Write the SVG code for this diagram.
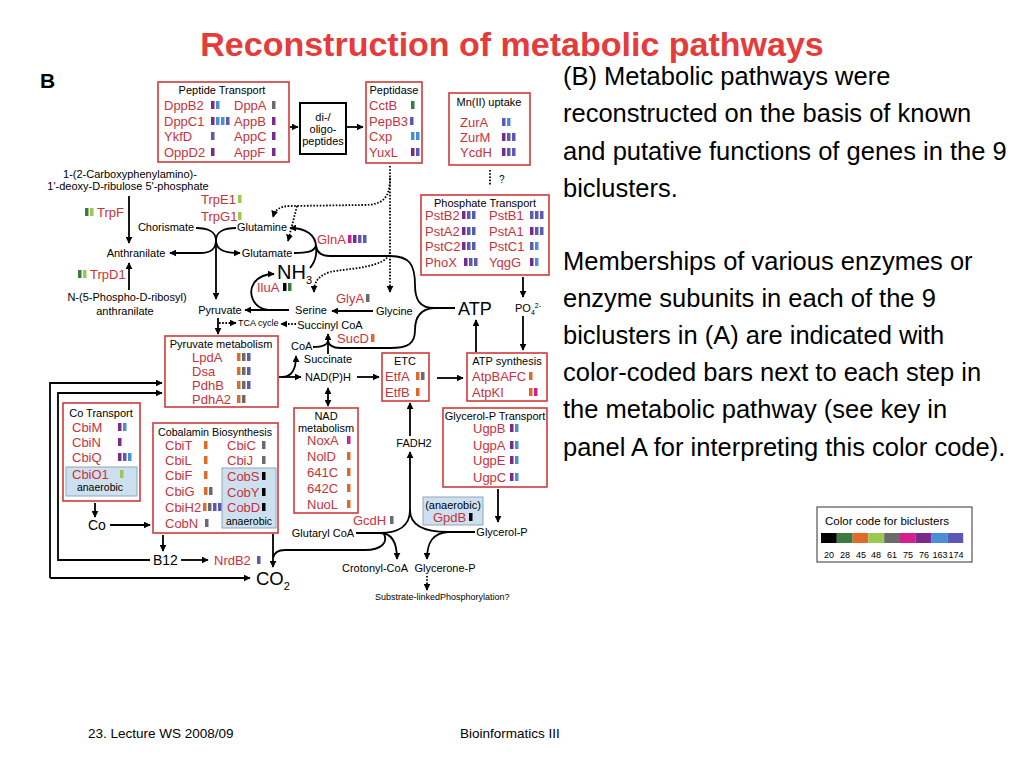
<svg xmlns="http://www.w3.org/2000/svg" width="1024" height="768" viewBox="0 0 1024 768">
<defs>
<style>
text{font-family:"Liberation Sans",Arial,Helvetica,sans-serif}
.t{font-size:11px;fill:#000}
.tm{font-size:11px;fill:#000;text-anchor:middle}
.g{font-size:13px;fill:#c8323a}
.box{fill:#fff;stroke:#d03a3a;stroke-width:1.6}
.an{fill:#cde0f0;stroke:#8fa6b8;stroke-width:1}
.ln{fill:none;stroke:#000;stroke-width:1.8;marker-end:url(#ah)}
.nl{fill:none;stroke:#000;stroke-width:1.8}
.dt{fill:none;stroke:#000;stroke-width:1.8;stroke-dasharray:1.6 1.6;marker-end:url(#ah)}
.dn{fill:none;stroke:#000;stroke-width:1.8;stroke-dasharray:1.6 1.6}
.c20{fill:#000}.c28{fill:#3b7a40}.c45{fill:#e06a2a}.c48{fill:#9ac850}.c61{fill:#6b6b6b}.c75{fill:#d2208c}.c76{fill:#7a2a8c}.c163{fill:#4a8fd6}.c174{fill:#5a5ab4}
.txt{font-size:25.5px;fill:#000}
</style>
<marker id="ah" viewBox="0 0 10 10" refX="9" refY="5" markerWidth="7" markerHeight="7" markerUnits="userSpaceOnUse" orient="auto-start-reverse"><path d="M0,0 L10,5 L0,10 z" fill="#000"/></marker>
</defs>
<rect width="1024" height="768" fill="#fff"/>

<text x="512" y="56" text-anchor="middle" style="font-size:34px;font-weight:bold;fill:#e43b3b">Reconstruction of metabolic pathways</text>
<text x="40" y="88" style="font-size:21px;font-weight:bold;fill:#000">B</text>

<g id="right-text">
<text class="txt" x="563" y="85">(B) Metabolic pathways were</text>
<text class="txt" x="563" y="122">reconstructed on the basis of known</text>
<text class="txt" x="563" y="160">and putative functions of genes in the 9</text>
<text class="txt" x="563" y="197">biclusters.</text>
<text class="txt" x="563" y="270">Memberships of various enzymes or</text>
<text class="txt" x="563" y="307">enzyme subunits in each of the 9</text>
<text class="txt" x="563" y="344">biclusters in (A) are indicated with</text>
<text class="txt" x="563" y="381">color-coded bars next to each step in</text>
<text class="txt" x="563" y="418">the metabolic pathway (see key in</text>
<text class="txt" x="563" y="456">panel A for interpreting this color code).</text>
</g>

<g id="color-key">
<rect x="817" y="507" width="155" height="55" fill="#fff" stroke="#333" stroke-width="1"/>
<text x="825" y="525" style="font-size:11.5px;fill:#000">Color code for biclusters</text>
<rect class="c20" x="821" y="533" width="15.8" height="10"/>
<rect class="c28" x="836.8" y="533" width="15.8" height="10"/>
<rect class="c45" x="852.6" y="533" width="15.8" height="10"/>
<rect class="c48" x="868.4" y="533" width="15.8" height="10"/>
<rect class="c61" x="884.2" y="533" width="15.8" height="10"/>
<rect class="c75" x="900" y="533" width="15.8" height="10"/>
<rect class="c76" x="915.8" y="533" width="15.8" height="10"/>
<rect class="c163" x="931.6" y="533" width="15.8" height="10"/>
<rect class="c174" x="947.4" y="533" width="15.8" height="10"/>
<g style="font-size:9px;fill:#000;text-anchor:middle">
<text x="829" y="558">20</text><text x="845" y="558">28</text><text x="861" y="558">45</text><text x="876" y="558">48</text><text x="892" y="558">61</text><text x="908" y="558">75</text><text x="924" y="558">76</text><text x="940" y="558">163</text><text x="956" y="558">174</text>
</g>
</g>

<g id="connectors">
<!-- peptide chain -->
<path class="ln" d="M290,127 L298,127"/>
<path class="ln" d="M347,127 L363,127"/>
<path class="dn" d="M490,170 L490,185"/>
<path class="ln" d="M523,277 L523,297"/>
<path class="ln" d="M523,316 L523,350"/>
<path class="ln" d="M476,352 L476,320"/>
<path class="ln" d="M437,378 L463,378"/>
<path class="ln" d="M357,377 L379,377"/>
<path class="ln" d="M410,436 L410,403"/>
<path class="ln" d="M410,512 L410,452"/>
<path class="ln" d="M498,489 L498,522"/>
<!-- ATP brace -->
<path class="nl" d="M455,308 L434,308 C420,308 415,300 415,285 C415,265 410,256 390,256 L330,256 C322,256 317,253 316,246"/>
<path class="nl" d="M434,308 C420,309 415,318 415,330 C415,344 408,348 390,348 L340,348 C333,348 328,345 328,340"/>
<!-- GlnA junction -->
<path class="ln" d="M316,247 C316,235 306,228 290,228"/>
<path class="nl" d="M294,253 C306,253 315,252 316,245"/>
<path class="nl" d="M310,268 C315,262 317,255 316,247"/>
<!-- chorismate junction -->
<path class="nl" d="M196,228 C208,228 216,232 216,240"/>
<path class="nl" d="M236,228 C224,228 216,232 216,240"/>
<path class="ln" d="M216,240 C216,250 210,253 200,253 L170,253"/>
<path class="ln" d="M216,240 C216,250 224,253 240,253"/>
<path class="ln" d="M216,240 L216,299"/>
<!-- trp -->
<path class="ln" d="M129,196 L129,243"/>
<path class="ln" d="M129,290 L129,263"/>
<!-- pyruvate / serine -->
<path class="ln" d="M218,318 L218,334"/>
<path class="dt" d="M219,323 L236,323"/>
<path class="dt" d="M296,324 L281,324"/>
<path class="ln" d="M289,310 L245,310"/>
<path class="ln" d="M268,310 C252,308 248,292 254,283 C259,276 266,274 274,274"/>
<path class="ln" d="M373,311 L332,311"/>
<!-- SucD -->
<path class="ln" d="M328,354 L328,334"/>
<path class="nl" d="M313,347 C322,347 328,345 328,340"/>
<!-- pyruvate metabolism outputs -->
<path class="ln" d="M279,377 L301,377"/>
<path class="ln" d="M282,377 C291,377 296,370 296,356"/>
<path class="ln" d="M328,388 L328,406" style="marker-start:url(#ah)"/>
<!-- left long lines -->
<path class="ln" d="M50,578 L50,383 L162,383"/>
<path class="ln" d="M50,578 L250,578"/>
<path class="ln" d="M150,560 L58,560 L58,393 L162,393"/>
<path class="ln" d="M181,560 L208,560"/>
<path class="ln" d="M95,503 L95,517"/>
<path class="ln" d="M110,525 L150,525"/>
<path class="ln" d="M163,535 L163,551"/>
<path class="ln" d="M273,534 L273,567"/>
<path class="nl" d="M384,534 C388,542 382,550 365,550 L285,550 C278,550 274,553 273,558"/>
<!-- GcdH / glycerol junction -->
<path class="nl" d="M356,533 L380,533 C398,533 410,526 410,510"/>
<path class="ln" d="M380,533 C392,533 397,542 397,559"/>
<path class="nl" d="M475,532 L448,532 C425,532 410,526 410,510"/>
<path class="ln" d="M448,532 C433,533 427,542 427,559"/>
<path class="dt" d="M427,576 L427,590"/>
<!-- dotted from peptidase -->
<path class="dt" d="M390,166 L390,292"/>
<path class="dt" d="M390,178 C390,198 383,205 363,205 L290,206 C280,206 275,210 273,217"/>
<path class="dt" d="M297,206 L288,241"/>
<path class="dt" d="M390,252 C387,268 350,268 330,272 C318,276 314,282 314,292"/>
</g>

<g id="peptide-transport">
<rect class="box" x="158" y="82" width="131" height="80"/>
<text class="tm" x="222" y="94">Peptide Transport</text>
<text class="g" x="164" y="110">DppB2</text><text class="g" x="164" y="126">DppC1</text><text class="g" x="164" y="141">YkfD</text><text class="g" x="164" y="157">OppD2</text>
<text class="g" x="234" y="110">DppA</text><text class="g" x="234" y="126">AppB</text><text class="g" x="234" y="141">AppC</text><text class="g" x="234" y="157">AppF</text>
<rect class="c76" x="211" y="101" width="3.5" height="8"/><rect class="c163" x="216" y="101" width="3.5" height="8"/>
<rect class="c76" x="211" y="117" width="3.5" height="8"/><rect class="c163" x="216" y="117" width="3.5" height="8"/><rect class="c163" x="221" y="117" width="3.5" height="8"/><rect class="c174" x="226" y="117" width="3.5" height="8"/>
<rect class="c174" x="211" y="132" width="3.5" height="8"/>
<rect class="c76" x="211" y="148" width="3.5" height="8"/>
<rect class="c61" x="272" y="101" width="3.5" height="8"/>
<rect class="c76" x="272" y="117" width="3.5" height="8"/>
<rect class="c76" x="272" y="132" width="3.5" height="8"/>
<rect class="c76" x="272" y="148" width="3.5" height="8"/>
</g>

<g id="oligopeptides">
<rect x="300" y="103" width="46" height="51" fill="#fff" stroke="#000" stroke-width="2"/>
<text class="tm" x="323" y="121">di-/</text>
<text class="tm" x="323" y="133">oligo-</text>
<text class="tm" x="323" y="145">peptides</text>
</g>

<g id="peptidase">
<rect class="box" x="366" y="82" width="56" height="81"/>
<text class="tm" x="394" y="94">Peptidase</text>
<text class="g" x="369" y="110">CctB</text><text class="g" x="369" y="126">PepB3</text><text class="g" x="369" y="141">Cxp</text><text class="g" x="369" y="157">YuxL</text>
<rect class="c28" x="411" y="101" width="3.5" height="8"/>
<rect class="c174" x="410" y="117" width="3.5" height="8"/>
<rect class="c163" x="411" y="132" width="3.5" height="8"/><rect class="c163" x="416" y="132" width="3.5" height="8"/>
<rect class="c76" x="411" y="148" width="3.5" height="8"/><rect class="c174" x="416" y="148" width="3.5" height="8"/>
</g>

<g id="mn-uptake">
<rect class="box" x="449" y="93" width="81" height="72"/>
<text class="tm" x="489" y="106">Mn(II) uptake</text>
<text class="g" x="460" y="127">ZurA</text><text class="g" x="460" y="142">ZurM</text><text class="g" x="460" y="157">YcdH</text>
<rect class="c174" x="502" y="118" width="3.5" height="8"/><rect class="c163" x="507" y="118" width="3.5" height="8"/>
<rect class="c76" x="502" y="133" width="3.5" height="8"/><rect class="c174" x="507" y="133" width="3.5" height="8"/><rect class="c174" x="512" y="133" width="3.5" height="8"/>
<rect class="c76" x="502" y="148" width="3.5" height="8"/><rect class="c174" x="507" y="148" width="3.5" height="8"/><rect class="c174" x="512" y="148" width="3.5" height="8"/>
<text x="499" y="183" style="font-size:10px;fill:#000">?</text>
</g>

<g id="phosphate-transport">
<rect class="box" x="421" y="195" width="128" height="80"/>
<text class="tm" x="485" y="207">Phosphate Transport</text>
<text class="g" x="425" y="220">PstB2</text><text class="g" x="425" y="236">PstA2</text><text class="g" x="425" y="251">PstC2</text><text class="g" x="425" y="267">PhoX</text>
<text class="g" x="489" y="220">PstB1</text><text class="g" x="489" y="236">PstA1</text><text class="g" x="489" y="251">PstC1</text><text class="g" x="489" y="267">YqgG</text>
<rect class="c76" x="462" y="211" width="3.5" height="8"/><rect class="c174" x="467" y="211" width="3.5" height="8"/><rect class="c174" x="472" y="211" width="3.5" height="8"/>
<rect class="c76" x="462" y="227" width="3.5" height="8"/><rect class="c174" x="467" y="227" width="3.5" height="8"/><rect class="c174" x="472" y="227" width="3.5" height="8"/>
<rect class="c76" x="462" y="242" width="3.5" height="8"/><rect class="c174" x="467" y="242" width="3.5" height="8"/><rect class="c174" x="472" y="242" width="3.5" height="8"/>
<rect class="c76" x="464" y="258" width="3.5" height="8"/><rect class="c174" x="469" y="258" width="3.5" height="8"/><rect class="c174" x="474" y="258" width="3.5" height="8"/>
<rect class="c174" x="530" y="211" width="3.5" height="8"/><rect class="c174" x="535" y="211" width="3.5" height="8"/><rect class="c174" x="540" y="211" width="3.5" height="8"/>
<rect class="c76" x="530" y="227" width="3.5" height="8"/><rect class="c174" x="535" y="227" width="3.5" height="8"/><rect class="c174" x="540" y="227" width="3.5" height="8"/>
<rect class="c174" x="530" y="242" width="3.5" height="8"/><rect class="c163" x="535" y="242" width="3.5" height="8"/>
<rect class="c76" x="530" y="258" width="3.5" height="8"/><rect class="c163" x="535" y="258" width="3.5" height="8"/>
</g>

<g id="po4"><text x="515" y="312" style="font-size:11px;fill:#000">PO<tspan style="font-size:7px" dy="3">4</tspan><tspan style="font-size:7px" dy="-7">2-</tspan></text></g>
<g id="atp"><text x="458" y="315" style="font-size:18px;fill:#000">ATP</text></g>

<g id="atp-synthesis">
<rect class="box" x="467" y="353" width="80" height="48"/>
<text class="tm" x="507" y="365">ATP synthesis</text>
<text class="g" x="472" y="381">AtpBAFC</text><text class="g" x="472" y="397">AtpKI</text>
<rect class="c45" x="529" y="372" width="3.5" height="8"/>
<rect class="c45" x="529" y="388" width="3.5" height="8"/><rect class="c75" x="534" y="388" width="3.5" height="8"/>
</g>

<g id="etc">
<rect class="box" x="382" y="353" width="47" height="48"/>
<text class="tm" x="405" y="365">ETC</text>
<text class="g" x="385" y="381">EtfA</text><text class="g" x="385" y="397">EtfB</text>
<rect class="c45" x="416" y="372" width="3.5" height="8"/><rect class="c61" x="421" y="372" width="3.5" height="8"/>
<rect class="c45" x="416" y="388" width="3.5" height="8"/>
</g>

<g id="glycerol-p-transport">
<rect class="box" x="443" y="408" width="104" height="79"/>
<text class="tm" x="495" y="420">Glycerol-P Transport</text>
<text class="g" x="473" y="433">UgpB</text><text class="g" x="473" y="450">UgpA</text><text class="g" x="473" y="465">UgpE</text><text class="g" x="473" y="482">UgpC</text>
<rect class="c76" x="510" y="424" width="3.5" height="8"/><rect class="c163" x="515" y="424" width="3.5" height="8"/>
<rect class="c76" x="510" y="441" width="3.5" height="8"/><rect class="c163" x="515" y="441" width="3.5" height="8"/>
<rect class="c76" x="510" y="456" width="3.5" height="8"/><rect class="c163" x="515" y="456" width="3.5" height="8"/>
<rect class="c76" x="510" y="473" width="3.5" height="8"/><rect class="c163" x="515" y="473" width="3.5" height="8"/>
</g>

<g id="gpdb">
<rect class="an" x="423" y="497" width="60" height="28"/>
<text class="tm" x="453" y="509">(anaerobic)</text>
<text class="g" x="433" y="522">GpdB</text>
<rect class="c20" x="469" y="513" width="3.5" height="8"/>
</g>

<g id="nad-metabolism">
<rect class="box" x="294" y="408" width="64" height="105"/>
<text class="tm" x="326" y="420">NAD</text>
<text class="tm" x="326" y="432">metabolism</text>
<text class="g" x="307" y="445">NoxA</text><text class="g" x="307" y="461">NolD</text><text class="g" x="307" y="477">641C</text><text class="g" x="307" y="493">642C</text><text class="g" x="307" y="509">NuoL</text>
<rect class="c75" x="347" y="436" width="3.5" height="8"/>
<rect class="c45" x="347" y="452" width="3.5" height="8"/>
<rect class="c45" x="347" y="468" width="3.5" height="8"/>
<rect class="c45" x="347" y="484" width="3.5" height="8"/>
<rect class="c45" x="347" y="500" width="3.5" height="8"/>
</g>

<g id="pyruvate-metabolism">
<rect class="box" x="165" y="336" width="113" height="71"/>
<text class="tm" x="221" y="348">Pyruvate metabolism</text>
<text class="g" x="192" y="362">LpdA</text><text class="g" x="192" y="376">Dsa</text><text class="g" x="192" y="390">PdhB</text><text class="g" x="192" y="404">PdhA2</text>
<rect class="c45" x="237" y="353" width="3.5" height="8"/><rect class="c61" x="242" y="353" width="3.5" height="8"/><rect class="c174" x="247" y="353" width="3.5" height="8"/>
<rect class="c45" x="237" y="367" width="3.5" height="8"/><rect class="c61" x="242" y="367" width="3.5" height="8"/><rect class="c174" x="247" y="367" width="3.5" height="8"/>
<rect class="c45" x="237" y="381" width="3.5" height="8"/><rect class="c61" x="242" y="381" width="3.5" height="8"/><rect class="c174" x="247" y="381" width="3.5" height="8"/>
<rect class="c45" x="237" y="395" width="3.5" height="8"/><rect class="c61" x="242" y="395" width="3.5" height="8"/>
</g>

<g id="co-transport">
<rect class="box" x="63" y="403" width="77" height="98"/>
<text class="tm" x="101" y="417">Co Transport</text>
<text class="g" x="72" y="432">CbiM</text><text class="g" x="72" y="447">CbiN</text><text class="g" x="72" y="462">CbiQ</text>
<rect class="an" x="66" y="467" width="71" height="29"/>
<text class="g" x="72" y="479">CbiO1</text>
<text class="tm" x="100" y="491" style="font-size:10.5px">anaerobic</text>
<rect class="c76" x="118" y="423" width="3.5" height="8"/><rect class="c163" x="123" y="423" width="3.5" height="8"/>
<rect class="c76" x="118" y="438" width="3.5" height="8"/>
<rect class="c76" x="118" y="453" width="3.5" height="8"/><rect class="c174" x="123" y="453" width="3.5" height="8"/><rect class="c163" x="128" y="453" width="3.5" height="8"/>
<rect class="c48" x="120" y="470" width="3.5" height="8"/>
</g>

<g id="cobalamin-biosynthesis">
<rect class="box" x="153" y="423" width="125" height="110"/>
<text class="tm" x="215" y="436" style="font-size:10.7px">Cobalamin Biosynthesis</text>
<text class="g" x="165" y="450">CbiT</text><text class="g" x="165" y="465">CbiL</text><text class="g" x="165" y="480">CbiF</text><text class="g" x="165" y="496">CbiG</text><text class="g" x="165" y="512">CbiH2</text><text class="g" x="165" y="528">CobN</text>
<text class="g" x="227" y="450">CbiC</text><text class="g" x="227" y="465">CbiJ</text>
<rect class="an" x="222" y="468" width="54" height="60"/>
<text class="g" x="227" y="481">CobS</text><text class="g" x="227" y="497">CobY</text><text class="g" x="227" y="512">CobD</text>
<text class="tm" x="249" y="525" style="font-size:10.5px">anaerobic</text>
<rect class="c45" x="204" y="441" width="3.5" height="8"/>
<rect class="c45" x="204" y="456" width="3.5" height="8"/>
<rect class="c45" x="204" y="471" width="3.5" height="8"/>
<rect class="c45" x="204" y="487" width="3.5" height="8"/><rect class="c61" x="209" y="487" width="3.5" height="8"/>
<rect class="c45" x="203" y="503" width="3.5" height="8"/><rect class="c61" x="208" y="503" width="3.5" height="8"/><rect class="c174" x="213" y="503" width="3.5" height="8"/><rect class="c174" x="218" y="503" width="3.5" height="8"/>
<rect class="c61" x="205" y="519" width="3.5" height="8"/>
<rect class="c61" x="262" y="441" width="3.5" height="8"/>
<rect class="c61" x="262" y="456" width="3.5" height="8"/>
<rect class="c20" x="262" y="472" width="3.5" height="8"/>
<rect class="c20" x="262" y="488" width="3.5" height="8"/>
<rect class="c20" x="262" y="503" width="3.5" height="8"/>
</g>

<g id="trp-pathway">
<text class="tm" x="130" y="178">1-(2-Carboxyphenylamino)-</text>
<text class="tm" x="128" y="190">1'-deoxy-D-ribulose 5'-phosphate</text>
<text class="g" x="97" y="217">TrpF</text>
<rect class="c28" x="85" y="208" width="3.5" height="8"/><rect class="c48" x="90" y="208" width="3.5" height="8"/>
<text class="tm" x="166" y="231">Chorismate</text>
<text class="tm" x="136" y="257">Anthranilate</text>
<text class="g" x="90" y="279">TrpD1</text>
<rect class="c28" x="78" y="270" width="3.5" height="8"/><rect class="c48" x="83" y="270" width="3.5" height="8"/>
<text class="tm" x="127" y="301">N-(5-Phospho-D-ribosyl)</text>
<text class="tm" x="125" y="315">anthranilate</text>
<text class="g" x="201" y="204">TrpE1</text><rect class="c48" x="238" y="195" width="3.5" height="8"/>
<text class="g" x="201" y="221">TrpG1</text><rect class="c48" x="238" y="212" width="3.5" height="8"/>
</g>

<g id="amino-acids">
<text class="tm" x="262" y="231">Glutamine</text>
<text class="tm" x="267" y="257">Glutamate</text>
<text class="g" x="317" y="244">GlnA</text>
<rect class="c75" x="348" y="235" width="3.5" height="8"/><rect class="c76" x="353" y="235" width="3.5" height="8"/><rect class="c174" x="358" y="235" width="3.5" height="8"/><rect class="c174" x="363" y="235" width="3.5" height="8"/>
<text x="277" y="279" style="font-size:20px;fill:#000">NH<tspan style="font-size:11px" dy="5">3</tspan></text>
<text class="g" x="257" y="292">IluA</text>
<rect class="c20" x="283" y="283" width="3.5" height="8"/><rect class="c28" x="288" y="283" width="3.5" height="8"/>
<text class="tm" x="220" y="314">Pyruvate</text>
<text class="tm" x="311" y="314">Serine</text>
<text class="t" x="376" y="315">Glycine</text>
<text class="g" x="336" y="303">GlyA</text><rect class="c61" x="366" y="294" width="3.5" height="8"/>
<text x="238" y="326" style="font-size:9px;fill:#000">TCA cycle</text>
<text class="tm" x="330" y="329">Succinyl CoA</text>
<text class="g" x="337" y="343">SucD</text><rect class="c45" x="371" y="334" width="3.5" height="8"/>
<text class="t" x="291" y="350">CoA</text>
<text class="tm" x="328" y="363">Succinate</text>
<text class="tm" x="328" y="381">NAD(P)H</text>
<text class="tm" x="414" y="447">FADH2</text>
</g>

<g id="bottom-metabolites">
<text x="88" y="530" style="font-size:14px;fill:#000">Co</text>
<text x="153" y="565" style="font-size:14px;fill:#000">B12</text>
<text class="g" x="214" y="565">NrdB2</text><rect class="c174" x="257" y="556" width="3.5" height="8"/>
<text x="256" y="585" style="font-size:18.5px;fill:#000">CO<tspan style="font-size:11px" dy="5">2</tspan></text>
<text class="g" x="353" y="525">GcdH</text><rect class="c61" x="390" y="516" width="3.5" height="8"/>
<text class="tm" x="323" y="537">Glutaryl CoA</text>
<text class="tm" x="502" y="536">Glycerol-P</text>
<text class="tm" x="375" y="572">Crotonyl-CoA</text>
<text class="tm" x="445" y="572">Glycerone-P</text>
<text x="375" y="600" style="font-size:9px;fill:#000">Substrate-linkedPhosphorylation?</text>
</g>

<g id="footer">
<text x="88" y="738" style="font-size:13.5px;fill:#000">23. Lecture WS 2008/09</text>
<text x="460" y="738" style="font-size:13.5px;fill:#000">Bioinformatics III</text>
</g>
</svg>
